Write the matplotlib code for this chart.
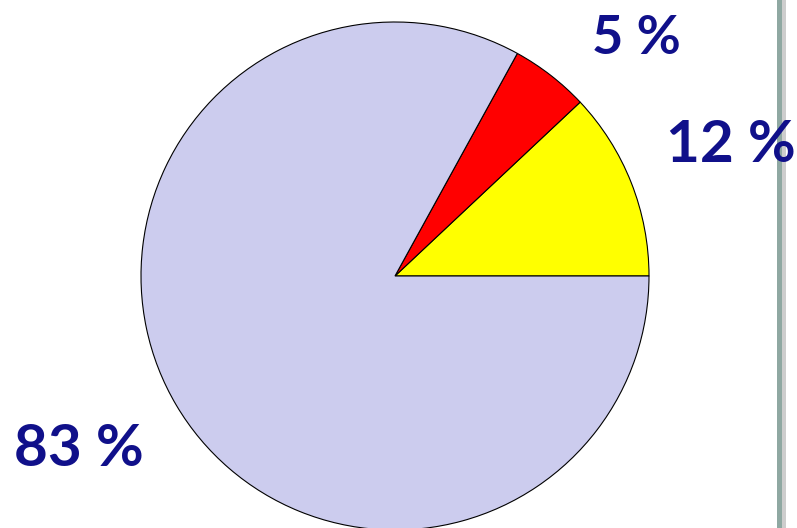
import matplotlib.pyplot as plt

# Données
parts = [12, 5, 83]
couleurs = ['#ffff00', '#ff0000', '#ccccee']
etiquettes = ['12 %', '5 %', '83 %']

fig = plt.figure(figsize=(7.97, 5.28), dpi=100, facecolor='w')
ax = fig.add_axes([0, 0, 1, 1])

ax.pie(parts, colors=couleurs, startangle=0, counterclock=True,
       center=(395, 252), radius=254,
       wedgeprops={'edgecolor': 'black', 'linewidth': 0.8})

# barre grise à droite
ax.axvspan(777, 782, color='#8fa8a2', lw=0, zorder=1)
ax.axvspan(782, 786, color='#cdcdcd', lw=0, zorder=1)

# étiquettes (positions des textes)
pos_txt = [(731, 382, 42), (636, 489, 39), (79, 78, 42)]
for lab, (x, y, fs) in zip(etiquettes, pos_txt):
    ax.text(x, y, lab, ha='center', va='center', fontsize=fs,
            fontweight='bold', color='#10108a', family='Lato', zorder=5)

ax.set_xlim(0, 797)
ax.set_ylim(0, 528)
ax.set_aspect('equal')
ax.axis('off')

plt.savefig('out.png', dpi=100)
